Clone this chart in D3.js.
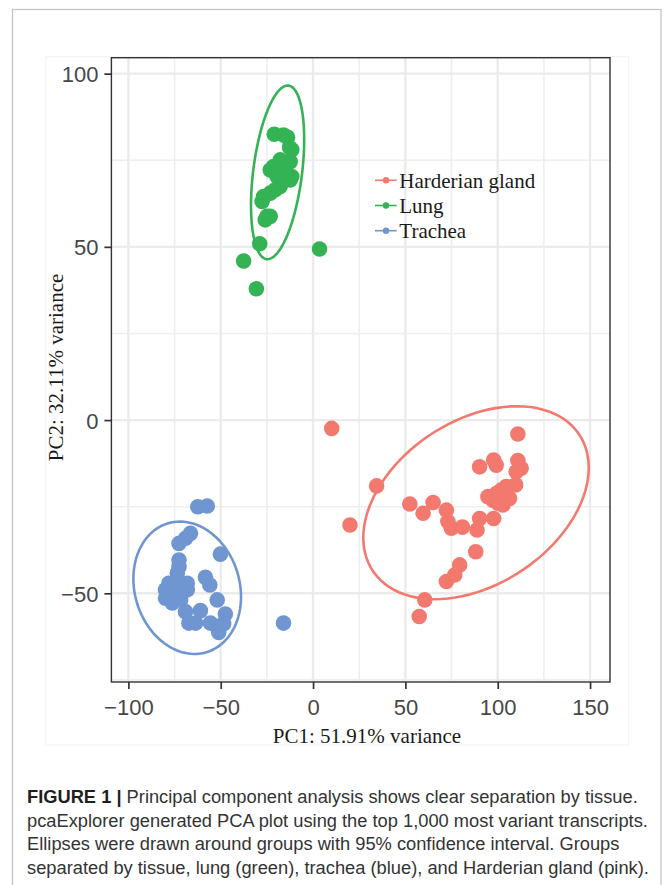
<!DOCTYPE html>
<html>
<head>
<meta charset="utf-8">
<script src="https://cdn.jsdelivr.net/npm/d3@7"></script>
<style>
  html, body { margin: 0; padding: 0; background: #ffffff; }
  svg { display: block; }
</style>
</head>
<body>
<svg id="chart" width="663" height="885"></svg>
<script>
// ---------- data ----------
const groups = ["Harderian gland", "Lung", "Trachea"];
const groupColors = ["#f3796f", "#34b354", "#6f96d1"];

const harderianPC1 = [10.1, 110.9, 90.2, 97.8, 99.2, 110.9, 112.7, 110.0, 34.4, 109.7, 104.6, 101.9, 99.2, 94.7, 97.4, 102.8, 106.4, 102.8, 100.1, 52.4, 65.0, 59.6, 72.2, 73.0, 74.9, 80.9, 90.2, 97.8, 88.8, 20.0, 88.1, 79.4, 76.7, 72.2, 60.5, 57.5];
const harderianPC2 = [-2.4, -4.0, -13.5, -11.5, -13.0, -11.7, -13.9, -14.9, -19.0, -18.7, -19.2, -20.2, -21.2, -22.1, -23.1, -23.1, -22.6, -24.5, -24.0, -24.2, -23.8, -26.9, -26.0, -29.3, -31.2, -30.9, -28.4, -28.4, -31.7, -30.3, -38.0, -41.8, -44.7, -46.6, -51.9, -56.7];

const lungPC1 = [-21.0, -16.0, -13.8, -12.7, -11.5, -17.8, -12.4, -21.4, -23.2, -16.0, -11.5, -15.1, -19.5, -12.4, -17.8, -20.5, -23.2, -26.8, -27.6, -24.9, -25.9, -23.2, -28.9, 3.5, -37.6, -30.7];
const lungPC2 = [82.5, 82.3, 81.6, 78.7, 78.0, 75.1, 74.6, 73.2, 72.2, 73.2, 70.3, 70.8, 70.3, 69.3, 67.4, 66.5, 65.5, 64.5, 63.1, 58.8, 57.8, 58.8, 50.9, 49.4, 45.9, 37.9];

const tracheaPC1 = [-62.4, -57.3, -66.4, -69.0, -72.6, -50.2, -72.6, -72.6, -73.5, -58.3, -55.9, -78.1, -73.5, -68.1, -79.9, -75.4, -70.8, -78.1, -73.5, -68.1, -79.9, -76.2, -71.7, -51.9, -69.1, -61.0, -67.3, -63.6, -47.5, -55.6, -51.9, -48.4, -51.1, -16.0];
const tracheaPC2 = [-25.0, -24.8, -32.7, -34.1, -35.6, -38.7, -40.4, -42.3, -44.2, -45.4, -47.6, -47.1, -46.6, -47.1, -49.0, -49.0, -48.6, -50.9, -50.5, -49.0, -51.4, -52.8, -51.9, -51.9, -55.3, -55.0, -58.6, -58.6, -56.0, -58.6, -59.6, -58.8, -61.3, -58.6];

// 95% ellipse parameters per group (centre and covariance)
const ellipseCx  = [88.25, -19.2, -68.15];
const ellipseCy  = [-23.85, 71.5, -48.4];
const ellipseSxx = [622.0, 34.6, 141.8];
const ellipseSxy = [102.9, 22.83, -12.65];
const ellipseSyy = [129.4, 104.9, 60.9];
const ellipseLevel = 0.95;

const xTicks = [-100, -50, 0, 50, 100, 150];
const yTicks = [-50, 0, 50, 100];
const xMinor = [-75, -25, 25, 75, 125];
const yMinor = [-75, -25, 25, 75];
const xDomain = [-109.2, 160.8];
const yDomain = [-75.6, 104.6];

const xTitle = "PC1: 51.91% variance";
const yTitle = "PC2: 32.11% variance";
const captionBold = "FIGURE 1 |";
const captionLines = [
  " Principal component analysis shows clear separation by tissue.",
  "pcaExplorer generated PCA plot using the top 1,000 most variant transcripts.",
  "Ellipses were drawn around groups with 95% confidence interval. Groups",
  "separated by tissue, lung (green), trachea (blue), and Harderian gland (pink)."
];

// ---------- build ----------
const pcs = [[harderianPC1, harderianPC2], [lungPC1, lungPC2], [tracheaPC1, tracheaPC2]];
const points = [];
pcs.forEach((p, gi) => p[0].forEach((v, i) => points.push({ g: gi, x: v, y: p[1][i] })));

const svg = d3.select("#chart");
const W = 663, H = 885;
const panel = { left: 111.4, right: 610, top: 57.7, bottom: 682 };

const x = d3.scaleLinear().domain(xDomain).range([panel.left, panel.right]);
const y = d3.scaleLinear().domain(yDomain).range([panel.bottom, panel.top]);

svg.append("rect").attr("width", W).attr("height", H).attr("fill", "#fff");

// outer figure frame
svg.append("rect").attr("x", 12.5).attr("y", 9.5).attr("width", 648.5).attr("height", 900)
  .attr("fill", "none").attr("stroke", "#c4c4c4").attr("stroke-width", 1.3);
// faint plot image boundary
svg.append("rect").attr("x", 45.7).attr("y", 56.7).attr("width", 583).attr("height", 688.3)
  .attr("fill", "none").attr("stroke", "#f3f3f3").attr("stroke-width", 1);

const gPanel = svg.append("g");
// grid minor
gPanel.selectAll("line.xminor").data(xMinor).join("line")
  .attr("x1", d => x(d)).attr("x2", d => x(d)).attr("y1", panel.top).attr("y2", panel.bottom)
  .attr("stroke", "#eeeeee").attr("stroke-width", 1.6);
gPanel.selectAll("line.yminor").data(yMinor).join("line")
  .attr("y1", d => y(d)).attr("y2", d => y(d)).attr("x1", panel.left).attr("x2", panel.right)
  .attr("stroke", "#eeeeee").attr("stroke-width", 1.6);
// grid major
gPanel.selectAll("line.xmajor").data(xTicks).join("line")
  .attr("x1", d => x(d)).attr("x2", d => x(d)).attr("y1", panel.top).attr("y2", panel.bottom)
  .attr("stroke", "#ebebeb").attr("stroke-width", 2.4);
gPanel.selectAll("line.ymajor").data(yTicks).join("line")
  .attr("y1", d => y(d)).attr("y2", d => y(d)).attr("x1", panel.left).attr("x2", panel.right)
  .attr("stroke", "#ebebeb").attr("stroke-width", 2.4);

// points
svg.append("g").selectAll("circle").data(points).join("circle")
  .attr("cx", d => x(d.x)).attr("cy", d => y(d.y)).attr("r", 7.8)
  .attr("fill", d => groupColors[d.g]);

// ellipses
const ed = Math.sqrt(-2 * Math.log(1 - ellipseLevel)); // sqrt(qchisq(p, 2))
const theta = d3.range(0, 101).map(i => -Math.PI + 2 * Math.PI * i / 100);
const line = d3.line().x(d => x(d[0])).y(d => y(d[1]));
groups.forEach((gname, gi) => {
  const a = Math.sqrt(ellipseSxx[gi]);
  const b = ellipseSxy[gi] / a;
  const c = Math.sqrt(ellipseSyy[gi] - b * b);
  const pts = theta.map(t => [
    ellipseCx[gi] + ed * Math.cos(t) * a,
    ellipseCy[gi] + ed * (Math.cos(t) * b + Math.sin(t) * c)
  ]);
  svg.append("path").attr("d", line(pts)).attr("fill", "none")
    .attr("stroke", groupColors[gi]).attr("stroke-width", 2.6);
});

// panel border
svg.append("rect").attr("x", panel.left).attr("y", panel.top)
  .attr("width", panel.right - panel.left).attr("height", panel.bottom - panel.top)
  .attr("fill", "none").attr("stroke", "#333").attr("stroke-width", 1.4);

// axes
const fmt = d => (d < 0 ? "\u2212" + Math.abs(d) : String(d));
const xAxis = d3.axisBottom(x).tickValues(xTicks).tickFormat(fmt).tickSize(7).tickPadding(7);
const yAxis = d3.axisLeft(y).tickValues(yTicks).tickFormat(fmt).tickSize(7).tickPadding(6);
const gx = svg.append("g").attr("transform", `translate(0,${panel.bottom})`).call(xAxis);
const gy = svg.append("g").attr("transform", `translate(${panel.left},0)`).call(yAxis);
[gx, gy].forEach(g => {
  g.select(".domain").remove();
  g.selectAll(".tick line").attr("stroke", "#333").attr("stroke-width", 1.7);
  g.selectAll(".tick text").attr("fill", "#474747")
    .style("font-family", "'Liberation Sans', Arial, sans-serif").style("font-size", "22px");
});
gx.selectAll(".tick text").attr("dy", null).attr("y", 33);
gy.selectAll(".tick text").attr("dy", "0.36em");

// axis titles
svg.append("text").attr("x", 367).attr("y", 743).attr("text-anchor", "middle")
  .style("font-family", "'Liberation Serif', 'Times New Roman', serif").style("font-size", "21px")
  .attr("fill", "#1a1a1a").text(xTitle);
svg.append("text").attr("transform", "translate(63,367.5) rotate(-90)").attr("text-anchor", "middle")
  .style("font-family", "'Liberation Serif', 'Times New Roman', serif").style("font-size", "21px")
  .attr("fill", "#1a1a1a").text(yTitle);

// legend
const legend = svg.append("g");
groups.forEach((gname, gi) => {
  const cy = 180.3 + gi * 25.2;
  legend.append("line").attr("x1", 375).attr("x2", 396.7).attr("y1", cy).attr("y2", cy)
    .attr("stroke", groupColors[gi]).attr("stroke-width", 1.6);
  legend.append("circle").attr("cx", 386).attr("cy", cy).attr("r", 3.2)
    .attr("fill", groupColors[gi]);
  legend.append("text").attr("x", 399.3).attr("y", cy + 7.6)
    .style("font-family", "'Liberation Serif', 'Times New Roman', serif").style("font-size", "21px")
    .attr("fill", "#1a1a1a").text(gname);
});

// caption
const capFont = "'Liberation Sans', Arial, sans-serif";
const capY = [803, 826.5, 850, 873.5];
captionLines.forEach((ln, i) => {
  const t = svg.append("text").attr("x", 27).attr("y", capY[i])
    .style("font-family", capFont).style("font-size", "18.3px").attr("fill", "#333333")
    .attr("xml:space", "preserve").style("white-space", "pre");
  if (i === 0) {
    t.append("tspan").style("font-weight", "bold").attr("fill", "#1f1f1f").text(captionBold);
  }
  t.append("tspan").text(ln);
});
</script>
</body>
</html>
